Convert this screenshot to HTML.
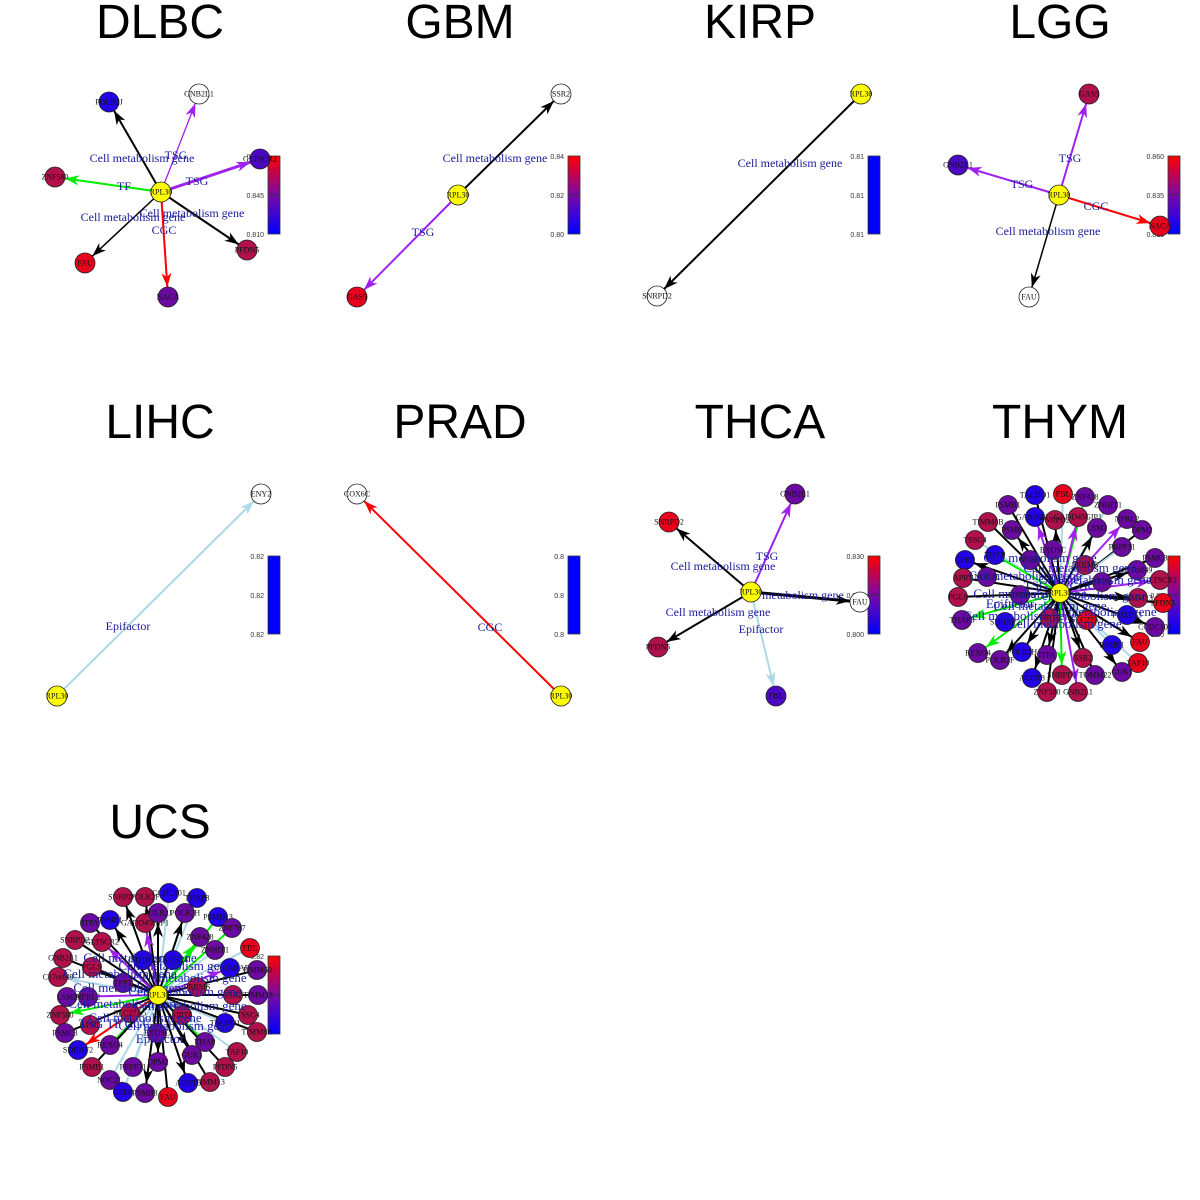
<!DOCTYPE html>
<html><head><meta charset="utf-8"><style>
html,body{margin:0;padding:0;background:#fff;width:1200px;height:1200px;overflow:hidden}
svg{display:block}
.t{font-family:"Liberation Sans",sans-serif;font-size:48px;text-anchor:middle}
.n{font-family:"Liberation Serif",serif;font-size:8px;text-anchor:middle;dominant-baseline:central;fill:#111}
.e{font-family:"Liberation Serif",serif;font-size:12px;text-anchor:middle;fill:#1a1a9c}
.d{font-family:"Liberation Serif",serif;font-size:13px;text-anchor:middle;fill:#1c1ca8}
.k{font-family:"Liberation Sans",sans-serif;font-size:7px;text-anchor:end;fill:#333}
circle{stroke:#222;stroke-width:0.8}
.Y{fill:#ffff00}.W{fill:#fff}.B{fill:#2200e8}.P{fill:#6a0aa0}.C{fill:#b0104c}.R{fill:#e8001c}.V{fill:#4a08c0}
line{stroke-width:2}
.lk{stroke:#000}.lp{stroke:#a020f0}.lg{stroke:#00ee00}.lb{stroke:#add8e6}.lr{stroke:#ff0000}
</style></head><body>
<svg width="1200" height="1200" viewBox="0 0 1200 1200" xmlns="http://www.w3.org/2000/svg">
<defs>
<linearGradient id="cb" x1="0" y1="0" x2="0" y2="1"><stop offset="0" stop-color="#ff0000"/><stop offset="0.5" stop-color="#7a08a8"/><stop offset="1" stop-color="#0000ff"/></linearGradient>
<marker id="mk" markerUnits="userSpaceOnUse" markerWidth="30" markerHeight="12" refX="24" refY="5" orient="auto"><path d="M0,0 L14,5 L0,10 L4,5z" fill="#000"/></marker>
<marker id="mp" markerUnits="userSpaceOnUse" markerWidth="30" markerHeight="12" refX="24" refY="5" orient="auto"><path d="M0,0 L14,5 L0,10 L4,5z" fill="#a020f0"/></marker>
<marker id="mg" markerUnits="userSpaceOnUse" markerWidth="30" markerHeight="12" refX="24" refY="5" orient="auto"><path d="M0,0 L14,5 L0,10 L4,5z" fill="#00ee00"/></marker>
<marker id="mb" markerUnits="userSpaceOnUse" markerWidth="30" markerHeight="12" refX="24" refY="5" orient="auto"><path d="M0,0 L14,5 L0,10 L4,5z" fill="#add8e6"/></marker>
<marker id="mr" markerUnits="userSpaceOnUse" markerWidth="30" markerHeight="12" refX="24" refY="5" orient="auto"><path d="M0,0 L14,5 L0,10 L4,5z" fill="#ff0000"/></marker>
</defs>

<!-- titles -->
<text class="t" x="160" y="38">DLBC</text>
<text class="t" x="460" y="38">GBM</text>
<text class="t" x="760" y="38">KIRP</text>
<text class="t" x="1060" y="38">LGG</text>
<text class="t" x="160" y="438">LIHC</text>
<text class="t" x="460" y="438">PRAD</text>
<text class="t" x="760" y="438">THCA</text>
<text class="t" x="1060" y="438">THYM</text>
<text class="t" x="160" y="838">UCS</text>

<!-- colorbars -->
<g stroke="#333" stroke-width="0.8">
<rect x="268" y="156" width="12" height="78" fill="url(#cb)"/><line x1="268" y1="195" x2="280" y2="195" style="stroke-width:0.8"/>
<rect x="568" y="156" width="12" height="78" fill="url(#cb)"/><line x1="568" y1="195" x2="580" y2="195" style="stroke-width:0.8"/>
<rect x="868" y="156" width="12" height="78" fill="#0000ff"/>
<rect x="1168" y="156" width="12" height="78" fill="url(#cb)"/><line x1="1168" y1="195" x2="1180" y2="195" style="stroke-width:0.8"/>
<rect x="268" y="556" width="12" height="78" fill="#0000ff"/>
<rect x="568" y="556" width="12" height="78" fill="#0000ff"/>
<rect x="868" y="556" width="12" height="78" fill="url(#cb)"/><line x1="868" y1="595" x2="880" y2="595" style="stroke-width:0.8"/>
<rect x="1168" y="556" width="12" height="78" fill="url(#cb)"/><line x1="1168" y1="595" x2="1180" y2="595" style="stroke-width:0.8"/>
<rect x="268" y="956" width="12" height="78" fill="url(#cb)"/><line x1="268" y1="995" x2="280" y2="995" style="stroke-width:0.8"/>
</g>
<text class="k" x="264" y="159">0.880</text><text class="k" x="264" y="198">0.845</text><text class="k" x="264" y="237">0.810</text>
<text class="k" x="564" y="159">0.84</text><text class="k" x="564" y="198">0.82</text><text class="k" x="564" y="237">0.80</text>
<text class="k" x="864" y="159">0.81</text><text class="k" x="864" y="198">0.81</text><text class="k" x="864" y="237">0.81</text>
<text class="k" x="1164" y="159">0.860</text><text class="k" x="1164" y="198">0.835</text><text class="k" x="1164" y="237">0.810</text>
<text class="k" x="264" y="559">0.82</text><text class="k" x="264" y="598">0.82</text><text class="k" x="264" y="637">0.82</text>
<text class="k" x="564" y="559">0.8</text><text class="k" x="564" y="598">0.8</text><text class="k" x="564" y="637">0.8</text>
<text class="k" x="864" y="559">0.830</text><text class="k" x="864" y="598">0.815</text><text class="k" x="864" y="637">0.800</text>
<text class="k" x="1164" y="559">0.88</text><text class="k" x="1164" y="598">0.86</text><text class="k" x="1164" y="637">0.80</text>
<text class="k" x="264" y="959">0.82</text><text class="k" x="264" y="998">0.81</text><text class="k" x="264" y="1037">0.80</text>

<!-- DLBC -->
<line class="lk" x1="161" y1="192" x2="109" y2="102" marker-end="url(#mk)"/>
<line class="lp" x1="161" y1="192" x2="199" y2="94" marker-end="url(#mp)" style="stroke-width:1.3"/>
<line class="lp" x1="161" y1="192" x2="260" y2="159" marker-end="url(#mp)" style="stroke-width:3"/>
<line class="lg" x1="161" y1="192" x2="55" y2="177" marker-end="url(#mg)"/>
<line class="lk" x1="161" y1="192" x2="247" y2="250" marker-end="url(#mk)"/>
<line class="lk" x1="161" y1="192" x2="85" y2="263" marker-end="url(#mk)" style="stroke-width:1.5"/>
<line class="lr" x1="161" y1="192" x2="168" y2="297" marker-end="url(#mr)"/>
<text class="e" x="142" y="162">Cell metabolism gene</text><text class="e" x="176" y="159">TSG</text>
<text class="e" x="197" y="185">TSG</text><text class="e" x="124" y="190">TF</text>
<text class="e" x="133" y="221">Cell metabolism gene</text><text class="e" x="192" y="217">Cell metabolism gene</text>
<text class="e" x="164" y="234">CGC</text>
<circle class="B" cx="109" cy="102" r="10"/><text class="n" x="109" y="102">POLR2J</text>
<circle class="W" cx="199" cy="94" r="10"/><text class="n" x="199" y="94">GNB2L1</text>
<circle class="V" cx="260" cy="159" r="10"/><text class="n" x="260" y="159">GLTSCR2</text>
<circle class="C" cx="55" cy="177" r="10"/><text class="n" x="55" y="177">ZNF580</text>
<circle class="C" cx="247" cy="250" r="10"/><text class="n" x="247" y="250">PFDN5</text>
<circle class="R" cx="85" cy="263" r="10"/><text class="n" x="85" y="263">FAU</text>
<circle class="P" cx="168" cy="297" r="10"/><text class="n" x="168" y="297">NACA</text>
<circle class="Y" cx="161" cy="192" r="10"/><text class="n" x="161" y="192">RPL30</text>

<!-- GBM -->
<line class="lk" x1="458" y1="195" x2="561" y2="94" marker-end="url(#mk)"/>
<line class="lp" x1="458" y1="195" x2="357" y2="297" marker-end="url(#mp)"/>
<text class="e" x="495" y="162">Cell metabolism gene</text><text class="e" x="423" y="236">TSG</text>
<circle class="W" cx="561" cy="94" r="10"/><text class="n" x="561" y="94">SSR2</text>
<circle class="R" cx="357" cy="297" r="10"/><text class="n" x="357" y="297">GAS5</text>
<circle class="Y" cx="458" cy="195" r="10"/><text class="n" x="458" y="195">RPL30</text>

<!-- KIRP -->
<line class="lk" x1="861" y1="94" x2="657" y2="296" marker-end="url(#mk)"/>
<text class="e" x="790" y="167">Cell metabolism gene</text>
<circle class="Y" cx="861" cy="94" r="10"/><text class="n" x="861" y="94">RPL30</text>
<circle class="W" cx="657" cy="296" r="10"/><text class="n" x="657" y="296">SNRPD2</text>

<!-- LGG -->
<line class="lp" x1="1059" y1="195" x2="1089" y2="94" marker-end="url(#mp)"/>
<line class="lp" x1="1059" y1="195" x2="958" y2="165" marker-end="url(#mp)"/>
<line class="lr" x1="1059" y1="195" x2="1160" y2="226" marker-end="url(#mr)"/>
<line class="lk" x1="1059" y1="195" x2="1029" y2="297" marker-end="url(#mk)" style="stroke-width:1.5"/>
<text class="e" x="1070" y="162">TSG</text><text class="e" x="1022" y="188">TSG</text>
<text class="e" x="1096" y="210">CGC</text><text class="e" x="1048" y="235">Cell metabolism gene</text>
<circle class="C" cx="1089" cy="94" r="10"/><text class="n" x="1089" y="94">GAS5</text>
<circle class="V" cx="958" cy="165" r="10"/><text class="n" x="958" y="165">GNB2L1</text>
<circle class="R" cx="1160" cy="226" r="10"/><text class="n" x="1160" y="226">NACA</text>
<circle class="W" cx="1029" cy="297" r="10"/><text class="n" x="1029" y="297">FAU</text>
<circle class="Y" cx="1059" cy="195" r="10"/><text class="n" x="1059" y="195">RPL30</text>

<!-- LIHC -->
<line class="lb" x1="57" y1="696" x2="261" y2="494" marker-end="url(#mb)"/>
<text class="e" x="128" y="630">Epifactor</text>
<circle class="W" cx="261" cy="494" r="10"/><text class="n" x="261" y="494">ENY2</text>
<circle class="Y" cx="57" cy="696" r="10"/><text class="n" x="57" y="696">RPL30</text>

<!-- PRAD -->
<line class="lr" x1="561" y1="696" x2="357" y2="494" marker-end="url(#mr)"/>
<text class="e" x="490" y="631">CGC</text>
<circle class="W" cx="357" cy="494" r="10"/><text class="n" x="357" y="494">COX6C</text>
<circle class="Y" cx="561" cy="696" r="10"/><text class="n" x="561" y="696">RPL30</text>

<!-- THCA -->
<line class="lp" x1="751" y1="592" x2="795" y2="494" marker-end="url(#mp)"/>
<line class="lk" x1="751" y1="592" x2="669" y2="522" marker-end="url(#mk)"/>
<line class="lk" x1="751" y1="592" x2="658" y2="647" marker-end="url(#mk)"/>
<line class="lk" x1="751" y1="592" x2="860" y2="602" marker-end="url(#mk)" style="stroke-width:3"/>
<line class="lb" x1="751" y1="592" x2="776" y2="696" marker-end="url(#mb)"/>
<text class="e" x="767" y="560">TSG</text><text class="e" x="723" y="570">Cell metabolism gene</text>
<text class="e" x="803" y="599">metabolism gene</text><text class="e" x="718" y="616">Cell metabolism gene</text>
<text class="e" x="761" y="633">Epifactor</text>
<circle class="P" cx="795" cy="494" r="10"/><text class="n" x="795" y="494">GNB2L1</text>
<circle class="R" cx="669" cy="522" r="10"/><text class="n" x="669" y="522">SNRPD2</text>
<circle class="C" cx="658" cy="647" r="10"/><text class="n" x="658" y="647">PFDN5</text>
<circle class="W" cx="860" cy="602" r="10"/><text class="n" x="860" y="602">FAU</text>
<circle class="V" cx="776" cy="696" r="10"/><text class="n" x="776" y="696">FBL</text>
<circle class="Y" cx="751" cy="592" r="10"/><text class="n" x="751" y="592">RPL30</text>

<!-- THYM -->
<g>
<line class="lk" x1="1060" y1="593" x2="1035" y2="495"/><line class="lb" x1="1060" y1="593" x2="1063" y2="494"/>
<line class="lg" x1="1060" y1="593" x2="1085" y2="497"/><line class="lb" x1="1060" y1="593" x2="1108" y2="505"/>
<line class="lk" x1="1060" y1="593" x2="1008" y2="505"/><line class="lp" x1="1060" y1="593" x2="1035" y2="517" marker-end="url(#mp)"/>
<line class="lk" x1="1060" y1="593" x2="1055" y2="520" marker-end="url(#mk)"/><line class="lp" x1="1060" y1="593" x2="1078" y2="517" marker-end="url(#mp)"/>
<line class="lp" x1="1060" y1="593" x2="1127" y2="519" marker-end="url(#mp)"/><line class="lk" x1="1060" y1="593" x2="988" y2="522"/>
<line class="lk" x1="1060" y1="593" x2="1012" y2="530" marker-end="url(#mk)"/><line class="lk" x1="1060" y1="593" x2="1097" y2="528" marker-end="url(#mk)"/>
<line class="lk" x1="1060" y1="593" x2="1142" y2="530"/><line class="lb" x1="1060" y1="593" x2="975" y2="540"/>
<line class="lb" x1="1060" y1="593" x2="1122" y2="547"/><line class="lg" x1="1060" y1="593" x2="995" y2="555"/>
<line class="lk" x1="1060" y1="593" x2="1155" y2="558"/><line class="lk" x1="1060" y1="593" x2="965" y2="560" marker-end="url(#mk)"/>
<line class="lk" x1="1060" y1="593" x2="1137" y2="570" marker-end="url(#mk)"/><line class="lp" x1="1060" y1="593" x2="1160" y2="580" marker-end="url(#mp)"/>
<line class="lk" x1="1060" y1="593" x2="963" y2="578"/><line class="lk" x1="1060" y1="593" x2="958" y2="597"/>
<line class="lk" x1="1060" y1="593" x2="1138" y2="598" marker-end="url(#mk)"/><line class="lk" x1="1060" y1="593" x2="1163" y2="603"/>
<line class="lg" x1="1060" y1="593" x2="962" y2="620" marker-end="url(#mg)"/><line class="lk" x1="1060" y1="593" x2="1155" y2="627" marker-end="url(#mk)"/>
<line class="lg" x1="1060" y1="593" x2="978" y2="653" marker-end="url(#mg)"/><line class="lk" x1="1060" y1="593" x2="1000" y2="660" marker-end="url(#mk)"/>
<line class="lk" x1="1060" y1="593" x2="1022" y2="652" marker-end="url(#mk)"/><line class="lk" x1="1060" y1="593" x2="1047" y2="655" marker-end="url(#mk)"/>
<line class="lk" x1="1060" y1="593" x2="1083" y2="658" marker-end="url(#mk)"/><line class="lb" x1="1060" y1="593" x2="1112" y2="645"/>
<line class="lk" x1="1060" y1="593" x2="1140" y2="642" marker-end="url(#mk)"/><line class="lb" x1="1060" y1="593" x2="1138" y2="663"/>
<line class="lk" x1="1060" y1="593" x2="1032" y2="678" marker-end="url(#mk)"/><line class="lg" x1="1060" y1="593" x2="1062" y2="675" marker-end="url(#mg)"/>
<line class="lk" x1="1060" y1="593" x2="1095" y2="675"/><line class="lk" x1="1060" y1="593" x2="1122" y2="672" marker-end="url(#mk)"/>
<line class="lk" x1="1060" y1="593" x2="1047" y2="692"/><line class="lp" x1="1060" y1="593" x2="1078" y2="692" marker-end="url(#mp)"/>
</g>
<g>
<circle class="B" cx="1035" cy="495" r="9.5"/><text class="n" x="1035" y="495">TALDO1</text>
<circle class="R" cx="1063" cy="494" r="9.5"/><text class="n" x="1063" y="494">FBL</text>
<circle class="P" cx="1085" cy="497" r="9.5"/><text class="n" x="1085" y="497">ZNF428</text>
<circle class="P" cx="1108" cy="505" r="9.5"/><text class="n" x="1108" y="505">ZNHIT1</text>
<circle class="P" cx="1008" cy="505" r="9.5"/><text class="n" x="1008" y="505">PSMB1</text>
<circle class="B" cx="1035" cy="517" r="9.5"/><text class="n" x="1035" y="517">GABARAP</text>
<circle class="C" cx="1055" cy="520" r="9.5"/><text class="n" x="1055" y="520">SNRPD2</text>
<circle class="C" cx="1078" cy="517" r="9.5"/><text class="n" x="1078" y="517">GADD45GIP1</text>
<circle class="P" cx="1127" cy="519" r="9.5"/><text class="n" x="1127" y="519">NPRL2</text>
<circle class="C" cx="988" cy="522" r="9.5"/><text class="n" x="988" y="522">TIMM8B</text>
<circle class="P" cx="1012" cy="530" r="9.5"/><text class="n" x="1012" y="530">PSMB</text>
<circle class="P" cx="1097" cy="528" r="9.5"/><text class="n" x="1097" y="528">LSM2</text>
<circle class="P" cx="1142" cy="530" r="9.5"/><text class="n" x="1142" y="530">DPM2</text>
<circle class="C" cx="975" cy="540" r="9.5"/><text class="n" x="975" y="540">TSSC4</text>
<circle class="P" cx="1122" cy="547" r="9.5"/><text class="n" x="1122" y="547">PRPF31</text>
<circle class="B" cx="995" cy="555" r="9.5"/><text class="n" x="995" y="555">THAP</text>
<circle class="P" cx="1053" cy="550" r="9.5"/><text class="n" x="1053" y="550">EXOSC</text>
<circle class="P" cx="1155" cy="558" r="9.5"/><text class="n" x="1155" y="558">PSMC3</text>
<circle class="B" cx="965" cy="560" r="9.5"/><text class="n" x="965" y="560">GFER</text>
<circle class="P" cx="1030" cy="560" r="9.5"/><text class="n" x="1030" y="560">NOSC</text>
<circle class="C" cx="1085" cy="565" r="9.5"/><text class="n" x="1085" y="565">PRRMS</text>
<circle class="P" cx="1137" cy="570" r="9.5"/><text class="n" x="1137" y="570">C17orf49</text>
<circle class="C" cx="963" cy="578" r="9.5"/><text class="n" x="963" y="578">APRT</text>
<circle class="P" cx="987" cy="577" r="9.5"/><text class="n" x="987" y="577">NOC2L</text>
<circle class="P" cx="1102" cy="582" r="9.5"/><text class="n" x="1102" y="582">TFPT</text>
<circle class="C" cx="1160" cy="580" r="9.5"/><text class="n" x="1160" y="580">GLTSCR2</text>
<circle class="C" cx="958" cy="597" r="9.5"/><text class="n" x="958" y="597">PGLS</text>
<circle class="P" cx="1020" cy="595" r="9.5"/><text class="n" x="1020" y="595">IMPDH2</text>
<circle class="C" cx="1138" cy="598" r="9.5"/><text class="n" x="1138" y="598">TIMM13</text>
<circle class="R" cx="1163" cy="603" r="9.5"/><text class="n" x="1163" y="603">PFDN5</text>
<circle class="P" cx="962" cy="620" r="9.5"/><text class="n" x="962" y="620">THAP3</text>
<circle class="B" cx="1005" cy="622" r="9.5"/><text class="n" x="1005" y="622">SDHAF2</text>
<circle class="C" cx="1050" cy="618" r="9.5"/><text class="n" x="1050" y="618">SIRT6</text>
<circle class="R" cx="1087" cy="620" r="9.5"/><text class="n" x="1087" y="620">SLC27A5</text>
<circle class="B" cx="1127" cy="615" r="9.5"/><text class="n" x="1127" y="615">PSMD13</text>
<circle class="P" cx="1155" cy="627" r="9.5"/><text class="n" x="1155" y="627">CCDC101</text>
<circle class="P" cx="978" cy="653" r="9.5"/><text class="n" x="978" y="653">REXO4</text>
<circle class="P" cx="1000" cy="660" r="9.5"/><text class="n" x="1000" y="660">POLR2F</text>
<circle class="B" cx="1022" cy="652" r="9.5"/><text class="n" x="1022" y="652">POLR2H</text>
<circle class="P" cx="1047" cy="655" r="9.5"/><text class="n" x="1047" y="655">ITPA</text>
<circle class="C" cx="1083" cy="658" r="9.5"/><text class="n" x="1083" y="658">SSR2</text>
<circle class="B" cx="1112" cy="645" r="9.5"/><text class="n" x="1112" y="645">PSME1</text>
<circle class="R" cx="1140" cy="642" r="9.5"/><text class="n" x="1140" y="642">FAU</text>
<circle class="R" cx="1138" cy="663" r="9.5"/><text class="n" x="1138" y="663">TAF10</text>
<circle class="B" cx="1032" cy="678" r="9.5"/><text class="n" x="1032" y="678">ACOT8</text>
<circle class="C" cx="1062" cy="675" r="9.5"/><text class="n" x="1062" y="675">SNRPD1</text>
<circle class="P" cx="1095" cy="675" r="9.5"/><text class="n" x="1095" y="675">TOMM22</text>
<circle class="P" cx="1122" cy="672" r="9.5"/><text class="n" x="1122" y="672">GUK1</text>
<circle class="C" cx="1047" cy="692" r="9.5"/><text class="n" x="1047" y="692">ZNF580</text>
<circle class="C" cx="1078" cy="692" r="9.5"/><text class="n" x="1078" y="692">GNB2L1</text>
</g>
<g>
<text class="d" x="1040" y="562">Cell metabolism gene</text><text class="d" x="1080" y="572">Cell metabolism gene</text>
<text class="d" x="1025" y="580">Cell metabolism gene</text><text class="d" x="1095" y="584">Cell metabolism gene</text>
<text class="d" x="1030" y="598">Cell metabolism gene</text><text class="d" x="1090" y="600">Cell metabolism gene</text>
<text class="d" x="1050" y="610">Cell metabolism gene</text><text class="d" x="1100" y="616">Cell metabolism gene</text>
<text class="d" x="1020" y="620">Cell metabolism gene</text><text class="d" x="1065" y="628">Cell metabolism gene</text>
<text class="d" x="1060" y="590">TSG TF CGC</text><text class="d" x="1010" y="608">Epifactor</text>
</g>
<circle class="Y" cx="1060" cy="593" r="9.5"/><text class="n" x="1060" y="593">RPL30</text>

<!-- UCS -->
<g>
<line class="lk" x1="158" y1="995" x2="123" y2="897" marker-end="url(#mk)"/><line class="lk" x1="158" y1="995" x2="145" y2="897" marker-end="url(#mk)"/>
<line class="lb" x1="158" y1="995" x2="169" y2="893"/><line class="lb" x1="158" y1="995" x2="197" y2="898"/>
<line class="lk" x1="158" y1="995" x2="110" y2="920" marker-end="url(#mk)"/><line class="lp" x1="158" y1="995" x2="145" y2="923" marker-end="url(#mp)"/>
<line class="lk" x1="158" y1="995" x2="158" y2="913" marker-end="url(#mk)"/><line class="lk" x1="158" y1="995" x2="185" y2="913" marker-end="url(#mk)"/>
<line class="lg" x1="158" y1="995" x2="218" y2="917"/><line class="lk" x1="158" y1="995" x2="90" y2="923"/>
<line class="lg" x1="158" y1="995" x2="232" y2="928"/><line class="lg" x1="158" y1="995" x2="200" y2="937" marker-end="url(#mg)"/>
<line class="lk" x1="158" y1="995" x2="75" y2="940"/><line class="lp" x1="158" y1="995" x2="102" y2="942" marker-end="url(#mp)"/>
<line class="lb" x1="158" y1="995" x2="215" y2="950"/><line class="lb" x1="158" y1="995" x2="250" y2="948"/>
<line class="lk" x1="158" y1="995" x2="63" y2="958"/><line class="lk" x1="158" y1="995" x2="92" y2="967"/>
<line class="lp" x1="158" y1="995" x2="230" y2="968" marker-end="url(#mp)"/><line class="lk" x1="158" y1="995" x2="257" y2="970"/>
<line class="lb" x1="158" y1="995" x2="58" y2="977" marker-end="url(#mb)"/><line class="lp" x1="158" y1="995" x2="233" y2="995"/>
<line class="lk" x1="158" y1="995" x2="258" y2="995"/><line class="lp" x1="158" y1="995" x2="67" y2="997"/>
<line class="lg" x1="158" y1="995" x2="60" y2="1015" marker-end="url(#mg)"/><line class="lk" x1="158" y1="995" x2="248" y2="1015"/>
<line class="lk" x1="158" y1="995" x2="65" y2="1033"/><line class="lb" x1="158" y1="995" x2="225" y2="1023"/>
<line class="lk" x1="158" y1="995" x2="257" y2="1032"/><line class="lg" x1="158" y1="995" x2="205" y2="1042"/>
<line class="lg" x1="158" y1="995" x2="110" y2="1045"/><line class="lr" x1="158" y1="995" x2="78" y2="1050" marker-end="url(#mr)"/>
<line class="lb" x1="158" y1="995" x2="237" y2="1052"/><line class="lk" x1="158" y1="995" x2="192" y2="1055" marker-end="url(#mk)"/>
<line class="lk" x1="158" y1="995" x2="225" y2="1067"/><line class="lk" x1="158" y1="995" x2="92" y2="1067"/>
<line class="lb" x1="158" y1="995" x2="133" y2="1067"/><line class="lk" x1="158" y1="995" x2="158" y2="1062" marker-end="url(#mk)"/>
<line class="lb" x1="158" y1="995" x2="110" y2="1080"/><line class="lb" x1="158" y1="995" x2="123" y2="1092"/>
<line class="lk" x1="158" y1="995" x2="145" y2="1093" marker-end="url(#mk)"/><line class="lk" x1="158" y1="995" x2="168" y2="1097"/>
<line class="lk" x1="158" y1="995" x2="188" y2="1083" marker-end="url(#mk)"/><line class="lk" x1="158" y1="995" x2="210" y2="1082"/>
</g>
<g>
<circle class="C" cx="123" cy="897" r="9.5"/><text class="n" x="123" y="897">SNRPD1</text>
<circle class="C" cx="145" cy="897" r="9.5"/><text class="n" x="145" y="897">POLR2F</text>
<circle class="B" cx="169" cy="893" r="9.5"/><text class="n" x="169" y="893">CCDC101</text>
<circle class="B" cx="197" cy="898" r="9.5"/><text class="n" x="197" y="898">THAP3</text>
<circle class="B" cx="110" cy="920" r="9.5"/><text class="n" x="110" y="920">PSME1</text>
<circle class="C" cx="145" cy="923" r="9.5"/><text class="n" x="145" y="923">GADD45GIP1</text>
<circle class="P" cx="158" cy="913" r="9.5"/><text class="n" x="158" y="913">POLR2J</text>
<circle class="P" cx="185" cy="913" r="9.5"/><text class="n" x="185" y="913">POLR2H</text>
<circle class="B" cx="218" cy="917" r="9.5"/><text class="n" x="218" y="917">PSMD13</text>
<circle class="P" cx="90" cy="923" r="9.5"/><text class="n" x="90" y="923">ITPA</text>
<circle class="P" cx="232" cy="928" r="9.5"/><text class="n" x="232" y="928">ZNF787</text>
<circle class="P" cx="200" cy="937" r="9.5"/><text class="n" x="200" y="937">ZNF428</text>
<circle class="C" cx="75" cy="940" r="9.5"/><text class="n" x="75" y="940">SNRPD2</text>
<circle class="C" cx="102" cy="942" r="9.5"/><text class="n" x="102" y="942">GLTSCR2</text>
<circle class="P" cx="215" cy="950" r="9.5"/><text class="n" x="215" y="950">ZNHIT1</text>
<circle class="R" cx="250" cy="948" r="9.5"/><text class="n" x="250" y="948">FBL</text>
<circle class="C" cx="63" cy="958" r="9.5"/><text class="n" x="63" y="958">GNB2L1</text>
<circle class="C" cx="92" cy="967" r="9.5"/><text class="n" x="92" y="967">PGLS</text>
<circle class="B" cx="143" cy="960" r="9.5"/><text class="n" x="143" y="960">IMPDH2</text>
<circle class="B" cx="173" cy="960" r="9.5"/><text class="n" x="173" y="960">EXOSC4</text>
<circle class="B" cx="230" cy="968" r="9.5"/><text class="n" x="230" y="968">GABARAP</text>
<circle class="P" cx="257" cy="970" r="9.5"/><text class="n" x="257" y="970">TIMM50</text>
<circle class="C" cx="58" cy="977" r="9.5"/><text class="n" x="58" y="977">C17orf49</text>
<circle class="P" cx="123" cy="983" r="9.5"/><text class="n" x="123" y="983">TFPT</text>
<circle class="C" cx="197" cy="987" r="9.5"/><text class="n" x="197" y="987">PRRMS</text>
<circle class="P" cx="67" cy="997" r="9.5"/><text class="n" x="67" y="997">LSM2</text>
<circle class="P" cx="88" cy="997" r="9.5"/><text class="n" x="88" y="997">NPRL2</text>
<circle class="C" cx="233" cy="995" r="9.5"/><text class="n" x="233" y="995">SSR2</text>
<circle class="P" cx="258" cy="995" r="9.5"/><text class="n" x="258" y="995">TIMM13</text>
<circle class="C" cx="60" cy="1015" r="9.5"/><text class="n" x="60" y="1015">ZNF580</text>
<circle class="C" cx="130" cy="1013" r="9.5"/><text class="n" x="130" y="1013">SLC27A5</text>
<circle class="C" cx="182" cy="1015" r="9.5"/><text class="n" x="182" y="1015">SIRT6</text>
<circle class="C" cx="248" cy="1015" r="9.5"/><text class="n" x="248" y="1015">TSSC4</text>
<circle class="P" cx="65" cy="1033" r="9.5"/><text class="n" x="65" y="1033">PSMC3</text>
<circle class="C" cx="90" cy="1025" r="9.5"/><text class="n" x="90" y="1025">APRT</text>
<circle class="B" cx="225" cy="1023" r="9.5"/><text class="n" x="225" y="1023">TALDO1</text>
<circle class="C" cx="257" cy="1032" r="9.5"/><text class="n" x="257" y="1032">TIMM8B</text>
<circle class="P" cx="157" cy="1033" r="9.5"/><text class="n" x="157" y="1033">EXOSC</text>
<circle class="P" cx="205" cy="1042" r="9.5"/><text class="n" x="205" y="1042">THAP</text>
<circle class="P" cx="110" cy="1045" r="9.5"/><text class="n" x="110" y="1045">REXO4</text>
<circle class="B" cx="78" cy="1050" r="9.5"/><text class="n" x="78" y="1050">SDHAF2</text>
<circle class="C" cx="237" cy="1052" r="9.5"/><text class="n" x="237" y="1052">TAF10</text>
<circle class="P" cx="192" cy="1055" r="9.5"/><text class="n" x="192" y="1055">GUK1</text>
<circle class="C" cx="225" cy="1067" r="9.5"/><text class="n" x="225" y="1067">PFDN5</text>
<circle class="C" cx="92" cy="1067" r="9.5"/><text class="n" x="92" y="1067">PSMB1</text>
<circle class="P" cx="133" cy="1067" r="9.5"/><text class="n" x="133" y="1067">PRPF31</text>
<circle class="P" cx="158" cy="1062" r="9.5"/><text class="n" x="158" y="1062">DPM2</text>
<circle class="P" cx="110" cy="1080" r="9.5"/><text class="n" x="110" y="1080">NOC2L</text>
<circle class="B" cx="123" cy="1092" r="9.5"/><text class="n" x="123" y="1092">GFER</text>
<circle class="P" cx="145" cy="1093" r="9.5"/><text class="n" x="145" y="1093">PSMB3</text>
<circle class="R" cx="168" cy="1097" r="9.5"/><text class="n" x="168" y="1097">FAU</text>
<circle class="B" cx="188" cy="1083" r="9.5"/><text class="n" x="188" y="1083">ACOT8</text>
<circle class="C" cx="210" cy="1082" r="9.5"/><text class="n" x="210" y="1082">TIMM13</text>
</g>
<g>
<text class="d" x="140" y="962">Cell metabolism gene</text><text class="d" x="175" y="970">Cell metabolism gene</text>
<text class="d" x="120" y="978">Cell metabolism gene</text><text class="d" x="190" y="982">Cell metabolism gene</text>
<text class="d" x="130" y="992">Cell metabolism gene</text><text class="d" x="185" y="996">Cell metabolism gene</text>
<text class="d" x="125" y="1008">Cell metabolism gene</text><text class="d" x="190" y="1010">Cell metabolism gene</text>
<text class="d" x="145" y="1022">Cell metabolism gene</text><text class="d" x="175" y="1030">Cell metabolism gene</text>
<text class="d" x="115" y="1028">TSG TF CGC</text><text class="d" x="160" y="1043">Epifactor</text>
</g>
<circle class="Y" cx="158" cy="995" r="9.5"/><text class="n" x="158" y="995">RPL30</text>
</svg>
</body></html>
